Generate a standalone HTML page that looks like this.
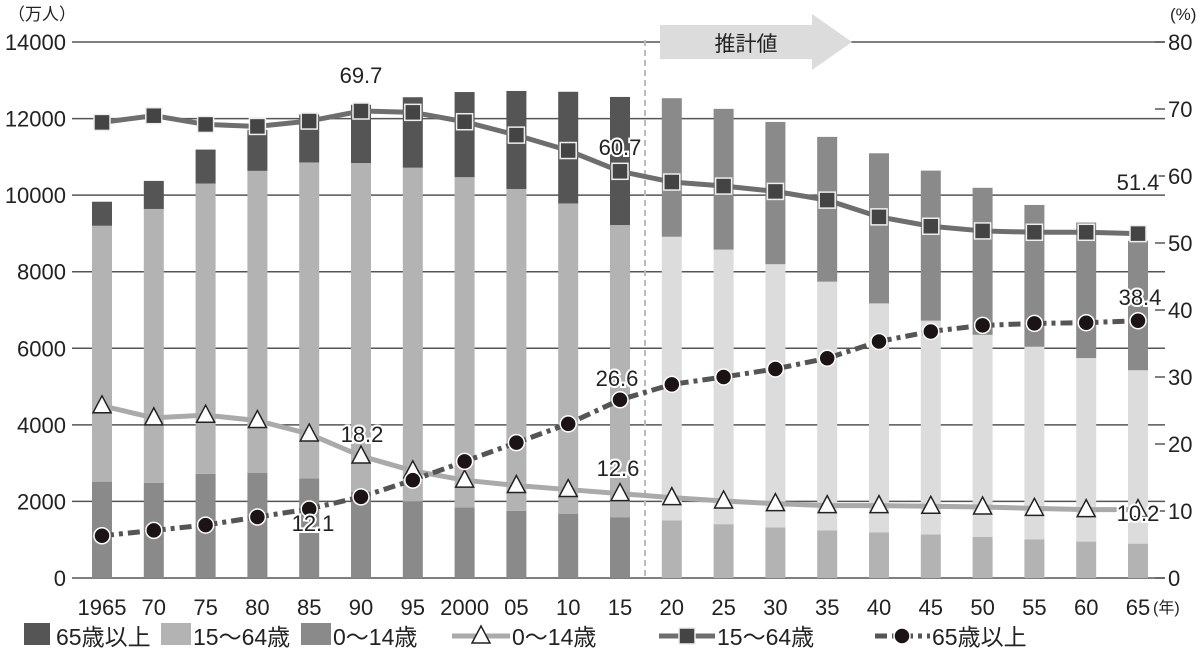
<!DOCTYPE html>
<html><head><meta charset="utf-8"><style>
html,body{margin:0;padding:0;background:#fff;}
svg{display:block;font-family:"Liberation Sans","Noto Sans CJK JP",sans-serif;}
</style></head><body>
<svg id="c" width="1200" height="654" viewBox="0 0 1200 654" xmlns="http://www.w3.org/2000/svg"></svg>
<script>
const S=document.getElementById('c');
let h='';
const X=i=>102+i*51.8;
const YL=v=>578-v*0.038286;
const YR=p=>578-p*6.7;
for(let v=0;v<=14000;v+=2000){const y=YL(v);h+=`<line x1="72" x2="1165" y1="${y}" y2="${y}" stroke="#555" stroke-width="1.5"/>`;
h+=`<text x="66" y="${y+8}" font-size="22" text-anchor="end" fill="#222">${v}</text>`;}
for(let p=0;p<=80;p+=10){const y=YR(p);h+=`<line x1="1155" x2="1165" y1="${y}" y2="${y}" stroke="#555" stroke-width="1.5"/>`;
h+=`<text x="1168" y="${y+8}" font-size="22" fill="#222">${p}</text>`;}
h+=`<text x="8" y="20" font-size="17" fill="#222">（万人）</text>`;
h+=`<text x="1170" y="20" font-size="17" fill="#222">(%)</text>`;
const a=[2517,2482,2722,2751,2603,2249,2001,1847,1752,1680,1589,1507,1407,1321,1246,1194,1138,1077,1012,951,898];
const b=[6683,7157,7581,7883,8251,8590,8716,8622,8409,8103,7629,7406,7170,6875,6494,5978,5584,5275,5028,4793,4529];
const c=[628,733,887,1072,1251,1522,1840,2224,2560,2917,3347,3619,3677,3716,3782,3921,3919,3840,3704,3540,3381];
for(let i=0;i<21;i++){const x=X(i)-10;const pr=i>10;
const cols=pr?['#b3b3b3','#dcdcdc','#8a8a8a']:['#8a8a8a','#b3b3b3','#555'];
let base=0;[a[i],b[i],c[i]].forEach((v,k)=>{const y1=YL(base),y2=YL(base+v);h+=`<rect x="${x}" y="${y2}" width="20" height="${y1-y2}" fill="${cols[k]}"/>`;base+=v;});}
h+=`<line x1="645" x2="645" y1="40" y2="578" stroke="#bbb" stroke-width="2" stroke-dasharray="6,4"/>`;
h+=`<polygon points="660,25 812,25 812,14 852,42 812,70 812,59 660,59" fill="#dcdcdc"/>`;
h+=`<text x="746" y="51" font-size="21" text-anchor="middle" fill="#222">推計値</text>`;
const p15=[68.0,69.0,67.7,67.4,68.2,69.7,69.5,68.1,66.1,63.8,60.7,59.1,58.5,57.7,56.4,53.9,52.5,51.8,51.6,51.6,51.4];
const p0=[25.7,23.9,24.3,23.5,21.5,18.2,16.0,14.6,13.8,13.2,12.6,12.0,11.5,11.1,10.8,10.8,10.7,10.6,10.4,10.2,10.2];
const p65=[6.3,7.1,7.9,9.1,10.3,12.1,14.6,17.4,20.2,23.0,26.6,28.9,30.0,31.2,32.8,35.3,36.8,37.7,38.0,38.1,38.4];
const pts=arr=>arr.map((p,i)=>X(i)+','+YR(p)).join(' ');
h+=`<polyline points="${pts(p0)}" fill="none" stroke="#aaa" stroke-width="5"/>`;
h+=`<polyline points="${pts(p15)}" fill="none" stroke="#6e6e6e" stroke-width="5"/>`;
h+=`<polyline points="${pts(p65)}" fill="none" stroke="#555" stroke-width="5" stroke-dasharray="12,5,4,5"/>`;
p0.forEach((p,i)=>{const x=X(i),y=YR(p);h+=`<polygon points="${x},${y-10} ${x+9},${y+7} ${x-9},${y+7}" fill="#fff" stroke="#222" stroke-width="1.5"/>`;});
p15.forEach((p,i)=>{const x=X(i),y=YR(p);h+=`<rect x="${x-8}" y="${y-8}" width="16" height="16" fill="#444" stroke="#eee" stroke-width="1.5"/>`;});
p65.forEach((p,i)=>{const x=X(i),y=YR(p);h+=`<circle cx="${x}" cy="${y}" r="8" fill="#1c1414" stroke="#fff" stroke-width="1.5"/>`;});
const L=[['69.7',361,83],['60.7',620,155],['51.4',1138,190],['38.4',1140,305],['26.6',617,386],['18.2',362,442],['12.6',618,476],['10.2',1138,521],['12.1',313,531]];
L.forEach(l=>{h+=`<text x="${l[1]}" y="${l[2]}" font-size="22" text-anchor="middle" fill="#222" stroke="#fff" stroke-width="4" paint-order="stroke">${l[0]}</text>`;});
const xl=['1965','70','75','80','85','90','95','2000','05','10','15','20','25','30','35','40','45','50','55','60','65'];
xl.forEach((t,i)=>{h+=`<text x="${X(i)}" y="615" font-size="22" text-anchor="middle" fill="#222">${t}</text>`;});
h+=`<text x="1153" y="613" font-size="16" fill="#222">(年)</text>`;
const ly=636;
h+=`<rect x="24" y="${ly-13}" width="26" height="22" fill="#555"/><text x="56" y="${ly+9}" font-size="23" fill="#222">65歳以上</text>`;
h+=`<rect x="161" y="${ly-13}" width="30" height="22" fill="#b3b3b3"/><text x="193" y="${ly+9}" font-size="23" fill="#222">15〜64歳</text>`;
h+=`<rect x="301" y="${ly-13}" width="30" height="22" fill="#8a8a8a"/><text x="333" y="${ly+9}" font-size="23" fill="#222">0〜14歳</text>`;
h+=`<line x1="452" x2="510" y1="${ly}" y2="${ly}" stroke="#aaa" stroke-width="5"/><polygon points="481,${ly-10} 490,${ly+7} 472,${ly+7}" fill="#fff" stroke="#222" stroke-width="1.5"/><text x="512" y="${ly+9}" font-size="23" fill="#222">0〜14歳</text>`;
h+=`<line x1="659" x2="715" y1="${ly}" y2="${ly}" stroke="#6e6e6e" stroke-width="5"/><rect x="679" y="${ly-8}" width="16" height="16" fill="#444" stroke="#eee" stroke-width="1.5"/><text x="717" y="${ly+9}" font-size="23" fill="#222">15〜64歳</text>`;
h+=`<line x1="875" x2="930" y1="${ly}" y2="${ly}" stroke="#555" stroke-width="5" stroke-dasharray="12,5,4,5"/><circle cx="902" cy="${ly}" r="8" fill="#1c1414" stroke="#fff" stroke-width="1.5"/><text x="932" y="${ly+9}" font-size="23" fill="#222">65歳以上</text>`;
S.innerHTML=h;
</script>
</body></html>
